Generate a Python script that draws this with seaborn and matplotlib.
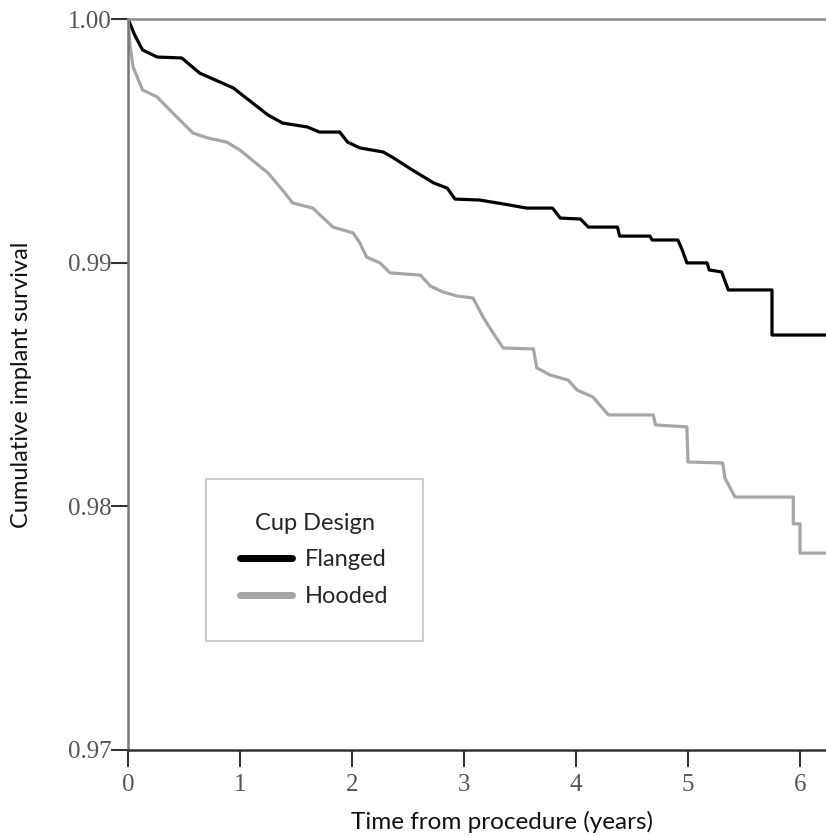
import numpy as np
import pandas as pd
import matplotlib
matplotlib.use('Agg')
import matplotlib.pyplot as plt
import seaborn as sns

# Kaplan-Meier vertices (years, survival)
flanged_t = [0.0, 0.06, 0.13, 0.26, 0.48, 0.64, 0.94, 1.25, 1.38, 1.60, 1.71, 1.89,
             1.96, 2.07, 2.28, 2.37, 2.54, 2.73, 2.85, 2.92, 3.14, 3.35, 3.56, 3.79,
             3.86, 4.04, 4.11, 4.37, 4.39, 4.66, 4.68, 4.91, 4.95, 4.99, 5.17, 5.19,
             5.30, 5.36, 5.75, 5.75, 6.25]
flanged_s = [1.0, 0.99934, 0.99873, 0.99844, 0.99840, 0.99778, 0.99717, 0.99606,
             0.99573, 0.99557, 0.99536, 0.99536, 0.99495, 0.99471, 0.99454, 0.99430,
             0.99380, 0.99327, 0.99306, 0.99261, 0.99257, 0.99241, 0.99224, 0.99224,
             0.99183, 0.99179, 0.99146, 0.99146, 0.99109, 0.99109, 0.99093, 0.99093,
             0.99050, 0.98999, 0.98999, 0.98970, 0.98962, 0.98888, 0.98888, 0.98703,
             0.98703]

hooded_t = [0.0, 0.018, 0.045, 0.13, 0.26, 0.40, 0.58, 0.71, 0.88, 1.00, 1.25, 1.38,
            1.47, 1.65, 1.83, 2.01, 2.07, 2.13, 2.25, 2.34, 2.61, 2.70, 2.81, 2.94,
            3.08, 3.17, 3.26, 3.35, 3.62, 3.65, 3.77, 3.93, 4.01, 4.15, 4.29, 4.69,
            4.71, 4.99, 5.00, 5.31, 5.33, 5.42, 5.94, 5.94, 6.00, 6.00, 6.25]
hooded_s = [1.0, 0.99893, 0.99803, 0.99709, 0.99680, 0.99614, 0.99532, 0.99512,
            0.99495, 0.99462, 0.99368, 0.99298, 0.99245, 0.99224, 0.99146, 0.99122,
            0.99081, 0.99023, 0.98999, 0.98958, 0.98949, 0.98904, 0.98880, 0.98863,
            0.98855, 0.98777, 0.98711, 0.98650, 0.98646, 0.98568, 0.98539, 0.98518,
            0.98477, 0.98449, 0.98375, 0.98375, 0.98334, 0.98326, 0.98182, 0.98178,
            0.98116, 0.98038, 0.98038, 0.97928, 0.97928, 0.97808, 0.97808]

x_ticks = [0, 1, 2, 3, 4, 5, 6]
y_ticks = [0.97, 0.98, 0.99, 1.00]
y_tick_labels = ['0.97', '0.98', '0.99', '1.00']

df = pd.concat([
    pd.DataFrame({'t': flanged_t, 's': flanged_s, 'Cup Design': 'Flanged'}),
    pd.DataFrame({'t': hooded_t, 's': hooded_s, 'Cup Design': 'Hooded'}),
], ignore_index=True)

sns.set_style('white')
plt.rcParams['font.family'] = ['Lato', 'DejaVu Sans']

fig = plt.figure(figsize=(8.26, 8.36), dpi=100)
ax = fig.add_axes([128 / 826, 1 - 750 / 836, 1 - 128 / 826, (750 - 19) / 836])

sns.lineplot(data=df, x='t', y='s', hue='Cup Design',
             palette={'Flanged': 'black', 'Hooded': '#a6a6a6'},
             estimator=None, sort=False, linewidth=2.3, ax=ax)

ax.set_xlim(0, (826 - 128) / 112)
ax.set_ylim(0.97, 1.0)
ax.set_xticks(x_ticks)
ax.set_xticklabels([str(v) for v in x_ticks])
ax.set_yticks(y_ticks)
ax.set_yticklabels(y_tick_labels)

for lab in ax.get_xticklabels() + ax.get_yticklabels():
    lab.set_family('Liberation Serif')
    lab.set_fontsize(18)
    lab.set_color('#555555')
ax.tick_params(axis='both', direction='out', length=12, width=1.5, color='#333333',
               bottom=True, left=True)
ax.tick_params(axis='x', pad=5)
ax.tick_params(axis='y', pad=0)

ax.spines['right'].set_visible(False)
ax.spines['top'].set_color('#8a8a8a')
ax.spines['top'].set_linewidth(1.8)
ax.spines['left'].set_color('#777777')
ax.spines['left'].set_linewidth(1.8)
ax.spines['bottom'].set_color('#333333')
ax.spines['bottom'].set_linewidth(1.8)

ax.set_xlabel('Time from procedure (years)', fontsize=17.5, color='#111111')
ax.set_ylabel('Cumulative implant survival', fontsize=17, color='#111111')
ax.xaxis.set_label_coords(0.536, -0.083)
ax.yaxis.set_label_coords(-0.137, 0.5)

leg = ax.legend(title='Cup Design', loc='lower left',
                bbox_to_anchor=(0.112, 0.149), fontsize=17, title_fontsize=17,
                frameon=True, fancybox=False, edgecolor='#c0c0c0',
                handlelength=2.2, handletextpad=0.55, labelspacing=0.65,
                borderpad=1.45, borderaxespad=0)
leg.get_frame().set_linewidth(1.5)
for line in leg.get_lines():
    line.set_linewidth(5)

plt.savefig('out.png', dpi=100)
